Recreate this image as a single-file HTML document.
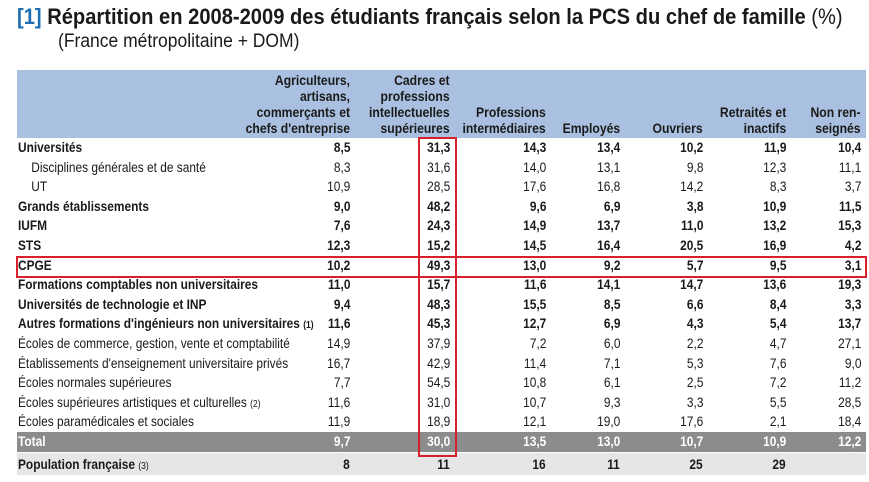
<!DOCTYPE html>
<html><head><meta charset="utf-8"><style>
body{margin:0;width:869px;height:482px;background:#fff;position:relative;overflow:hidden;font-family:"Liberation Sans",sans-serif;color:#1a1a1a}
.a{position:absolute;white-space:nowrap}
.t{font-size:22px;font-weight:bold;left:17px;top:4px;transform:scaleX(0.915);transform-origin:left}
.t b{color:#1f6db3}
.s{font-size:19px;left:58px;top:31px;transform:scaleX(0.92);transform-origin:left}
.hd{position:absolute;left:17px;top:70px;width:849px;height:68px;background:#aac0e0}
.h{position:absolute;font-size:14px;font-weight:bold;line-height:16px;text-align:right;bottom:346px;transform:scaleX(0.87);transform-origin:right}
.r{position:absolute;left:17px;width:849px;height:19.6px;font-size:14px;line-height:19.6px}
.r span{position:absolute;text-align:right;white-space:nowrap;transform:scaleX(0.85);transform-origin:right}
.r .l{left:1px;text-align:left;transform-origin:left}
.B{font-weight:bold}
.sm{font-size:10px}
.r span .sm{position:static;transform:none}
</style></head><body>
<div class="a t"><b>[1]</b> Répartition en 2008-2009 des étudiants français selon la PCS du chef de famille <span style="font-weight:normal">(%)</span></div>
<div class="a s">(France métropolitaine + DOM)</div>
<div class="hd"></div>
<div class="h" style="right:519px">Agriculteurs,<br>artisans,<br>commerçants et<br>chefs d'entreprise</div>
<div class="h" style="right:419px">Cadres et<br>professions<br>intellectuelles<br>supérieures</div>
<div class="h" style="right:323px">Professions<br>intermédiaires</div>
<div class="h" style="right:249px">Employés</div>
<div class="h" style="right:166px">Ouvriers</div>
<div class="h" style="right:83px">Retraités et<br>inactifs</div>
<div class="h" style="right:8px">Non ren-<br>seignés</div>
<div id="rows"></div>
<script>
var d=[
[1,"Universités","8,5","31,3","14,3","13,4","10,2","11,9","10,4"],
[0,"&nbsp;&nbsp;&nbsp;&nbsp;Disciplines générales et de santé","8,3","31,6","14,0","13,1","9,8","12,3","11,1"],
[0,"&nbsp;&nbsp;&nbsp;&nbsp;UT","10,9","28,5","17,6","16,8","14,2","8,3","3,7"],
[1,"Grands établissements","9,0","48,2","9,6","6,9","3,8","10,9","11,5"],
[1,"IUFM","7,6","24,3","14,9","13,7","11,0","13,2","15,3"],
[1,"STS","12,3","15,2","14,5","16,4","20,5","16,9","4,2"],
[1,"CPGE","10,2","49,3","13,0","9,2","5,7","9,5","3,1"],
[1,"Formations comptables non universitaires","11,0","15,7","11,6","14,1","14,7","13,6","19,3"],
[1,"Universités de technologie et INP","9,4","48,3","15,5","8,5","6,6","8,4","3,3"],
[1,"Autres formations d'ingénieurs non universitaires <span class=sm>(1)</span>","11,6","45,3","12,7","6,9","4,3","5,4","13,7"],
[0,"Écoles de commerce, gestion, vente et comptabilité","14,9","37,9","7,2","6,0","2,2","4,7","27,1"],
[0,"Établissements d'enseignement universitaire privés","16,7","42,9","11,4","7,1","5,3","7,6","9,0"],
[0,"Écoles normales supérieures","7,7","54,5","10,8","6,1","2,5","7,2","11,2"],
[0,"Écoles supérieures artistiques et culturelles <span class=sm>(2)</span>","11,6","31,0","10,7","9,3","3,3","5,5","28,5"],
[0,"Écoles paramédicales et sociales","11,9","18,9","12,1","19,0","17,6","2,1","18,4"],
[2,"Total","9,7","30,0","13,5","13,0","10,7","10,9","12,2"],
[3,"Population française <span class=sm style='font-weight:normal'>(3)</span>","8","11","16","11","25","29",""]];
var R=[350,450,546,620,703,786,861],h="";
d.forEach(function(r,i){
 var top=138+i*19.6, st="top:"+top+"px;";
 if(r[0]==2)st+="background:#8c8c8c;color:#fff;";
 if(r[0]==3)st+="background:#e6e6e6;top:"+(top+1)+"px;height:22px;line-height:22px;";
 h+='<div class="r'+(r[0]?' B':'')+'" style="'+st+'"><span class="l">'+r[1]+'</span>';
 for(var j=0;j<7;j++)h+='<span style="right:'+(866-R[j])+'px">'+r[j+2]+'</span>';
 h+='</div>';
});
h+='<div class="a" style="left:16px;top:256px;width:847px;height:18px;border:2px solid #d8202c"></div>';
h+='<div class="a" style="left:418px;top:137px;width:35px;height:316px;border:2px solid #d8202c"></div>';
document.getElementById("rows").innerHTML=h;
</script>
</body></html>
